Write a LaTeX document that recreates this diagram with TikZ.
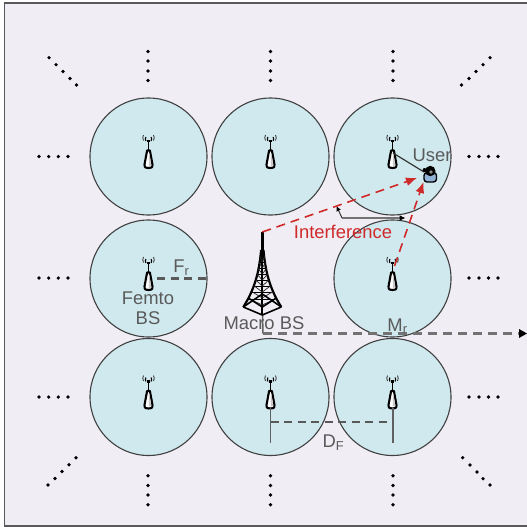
\documentclass[tikz,border=0pt]{standalone}
\usepackage{fontspec}
\setmainfont{Liberation Sans}
\usetikzlibrary{arrows.meta,calc}
\definecolor{bgc}{HTML}{F0EEF4}
\definecolor{cellc}{HTML}{D0E9EF}
\definecolor{txtc}{HTML}{5A5A5A}
\definecolor{redc}{HTML}{CF2A2A}
\definecolor{userc}{HTML}{8FB2D6}
\tikzset{
  cell/.style={circle,draw=black!75,line width=1.1pt,fill=cellc,minimum size=117pt,inner sep=0pt},
  lbl/.style={text=txtc,inner sep=0pt,font=\fontsize{18.4}{21}\selectfont},
  redlbl/.style={text=redc,inner sep=0pt,font=\fontsize{18.4}{21}\selectfont},
  reddash/.style={draw=redc,line width=1.6pt,dash pattern=on 9pt off 6pt,-{Latex[length=11pt,width=9pt]}},
  greydash/.style={draw=black!55,line width=2.5pt,dash pattern=on 9pt off 6pt},
  darkdash/.style={draw=black!65,line width=2.1pt,dash pattern=on 8pt off 5.5pt},
  thinline/.style={draw=black!62,line width=1.5pt},
  dotmark/.style={circle,fill=black,inner sep=0pt,minimum size=3.6pt},
  femto/.pic={
    \draw[black,line width=1.1pt] (-2.6,-15.5) arc[start angle=150,end angle=210,radius=4];
    \draw[black,line width=1.1pt] (2.6,-15.5) arc[start angle=30,end angle=-30,radius=4];
    \draw[black!75,line width=0.9pt] (-5,-16) arc[start angle=150,end angle=210,radius=5.5];
    \draw[black!75,line width=0.9pt] (5,-16) arc[start angle=30,end angle=-30,radius=5.5];
    \fill[black] (-1.8,-17) rectangle (1.8,-14.5);
    \draw[black,line width=1.8pt] (0,-15) -- (0,-6);
    \draw[black,line width=2.1pt,fill=white,line join=round] (-1.4,-6) -- (1.4,-6) -- (4,8) .. controls (4.2,11.5) and (2,11.5) .. (0,11.5) .. controls (-2,11.5) and (-4.2,11.5) .. (-4,8) -- cycle;
    \fill[black!22] (0.3,-3) -- (1,-3) -- (2.6,9) -- (0.3,9.5) -- cycle;
  },
  tower/.pic={
    \draw[black,line width=2.8pt] (0,0) -- (0,20);
    \draw[black,line width=2pt] (0,20) -- (0,83);
    \draw[black,line width=2.2pt] (-1.2,18) .. controls (-3,40) and (-8,58) .. (-19,75);
    \draw[black,line width=2.2pt] (1.2,18) .. controls (3,40) and (8,58) .. (19,75);
    \foreach \y/\w in {24/2.5,30/3.5,36/4.5,42/5.5,48/6.5,54/8,60/10,67/13}{
      \draw[black,line width=0.9pt] (-\w,\y) -- (\w,\y);
      \draw[black!85,line width=0.7pt] (-\w,\y) -- (0,\y+6);
      \draw[black!85,line width=0.7pt] (\w,\y) -- (0,\y+6);
    }
    \draw[black,line width=1.6pt] (-19,75) -- (0,62) -- (19,75);
    \draw[black,line width=1.6pt] (-14,66) -- (0,75) -- (14,66);
    \draw[black,line width=1.6pt] (-19,75) -- (0,83) -- (19,75);
  }
}
\begin{document}
\begin{tikzpicture}[x=1pt,y=-1pt]
\useasboundingbox (0,0) rectangle (527,527);
\clip (0,0) rectangle (527,527);
\fill[white] (0,0) rectangle (527,527);
\draw[fill=bgc,draw=black!65,line width=1.1pt] (4.5,3) rectangle (540,526);

% dots
\foreach \px/\py in {
 49/57.7,56/64.7,63/71.5,70/78.5,76.5/85,
 490/57.7,483/64.7,476/71.5,469/78.5,461.5/85,
 76/457.7,69/464.7,62/471.5,55/478.5,48/485,
 462.7/457.7,470/465,477/472,483/478.7,490/485,
 148/51.5,148/61,148/71,148/80.5,
 270.5/51.5,270.5/61,270.5/71,270.5/80.5,
 393/51.5,393/61,393/71,393/80.5,
 148/475.7,148/485.5,148/495,148/504.7,
 270.5/475.7,270.5/485.5,270.5/495,270.5/504.7,
 393/475.7,393/485.5,393/495,393/504.7,
 39/156.5,48.7/156.5,58.3/156.5,68/156.5,
 39/278,48.7/278,58.3/278,68/278,
 39/397,48.7/397,58.3/397,68/397,
 469/156.5,479/156.5,488.5/156.5,498/156.5,
 469/278,479/278,488.5/278,498/278,
 469/397,479/397,488.5/397,498/397}{
  \node[dotmark] at (\px,\py) {};
}

% cells
\node[cell] (c11) at (148.5,156.5) {};
\node[cell] (c12) at (270.5,156.5) {};
\node[cell] (c13) at (392.5,156.5) {};
\node[cell] (c21) at (148.5,278.5) {};
\node[cell] (c23) at (392.5,278.5) {};
\node[cell] (c31) at (148.5,397) {};
\node[cell] (c32) at (270.5,397) {};
\node[cell] (c33) at (392.5,397) {};

% macro base dashed
\coordinate (mbase) at (263,333.5);
\coordinate (mend) at (527,333.5);
\coordinate (mtop) at (262.3,232);
\draw[thinline] (262.5,315) -- (mbase);
\draw[greydash] (mbase) -- ($(mend)+(-8,0)$);
\draw[draw=none,fill=black] (mend) -- ++(-8,-4.5) -- ++(0,9) -- cycle;

% icons
\foreach \n in {c11,c12,c13,c21,c23,c31,c32,c33}{
  \pic at (\n) {femto};
}
\pic at (mtop) {tower};

% user
\coordinate (ufemto) at (393,153);
\coordinate (uhand) at (424,172);
\draw[black!80,line width=1.2pt] (ufemto) -- (uhand);
\node[lbl] (ulabel) at (432,155) {User};
\draw[black,line width=1.4pt,fill=userc,rounded corners=3pt] (424,182) -- (424,172.5) -- (436.5,172.5) -- (436.5,182) -- cycle;
\fill[black] (430.3,171) circle (5.2);
\fill[black] (424.5,170) circle (2);
\fill[black!45] (431,172) circle (1.8);
\coordinate (user) at (430,176);

% angle marker
\coordinate (avertex) at (342,218);
\coordinate (ahead) at (405.5,218);
\coordinate (atip) at (336.5,206);
\draw[black!55,line width=2.2pt,-{Latex[length=6pt,width=6pt,black]}] (avertex) -- (ahead);
\draw[black!80,line width=1pt,-{Latex[length=5pt,width=5pt,black]}] (avertex) -- (atip);

% interference
\coordinate (i1) at (417,178);
\coordinate (i2) at (423.5,182);
\coordinate (i2s) at (394.5,266);
\draw[reddash] (mtop) -- (i1);
\draw[reddash] (i2s) -- (i2);
\node[redlbl] (ilabel) at (343,231.5) {Interference};

% macro label
\node[lbl] (mlabel) at (264,323.5) {Macro BS};

% Fr
\coordinate (fa) at (157,278.5);
\coordinate (fb) at (207,278.5);
\draw[darkdash] (fa) -- (fb);
\node[lbl] (frlabel) at (181.5,267.5) {F\textsubscript{r}};
\node[lbl] (f1) at (148,298.5) {Femto};
\node[lbl] (f2) at (148,318) {BS};

% Mr
\node[lbl] (mrlabel) at (397.5,326) {M\textsubscript{r}};

% DF
\coordinate (d1t) at (270.5,408);
\coordinate (d1b) at (270.5,443);
\coordinate (d2t) at (393,408);
\coordinate (d2b) at (393,443);
\coordinate (d1m) at (270.5,422);
\coordinate (d2m) at (393,422);
\draw[thinline] (d1t) -- (d1b);
\draw[thinline] (d2t) -- (d2b);
\draw[darkdash] (d1m) -- (d2m);
\node[lbl] (dlabel) at (333.5,442.5) {D\textsubscript{F}};
\end{tikzpicture}
\end{document}
